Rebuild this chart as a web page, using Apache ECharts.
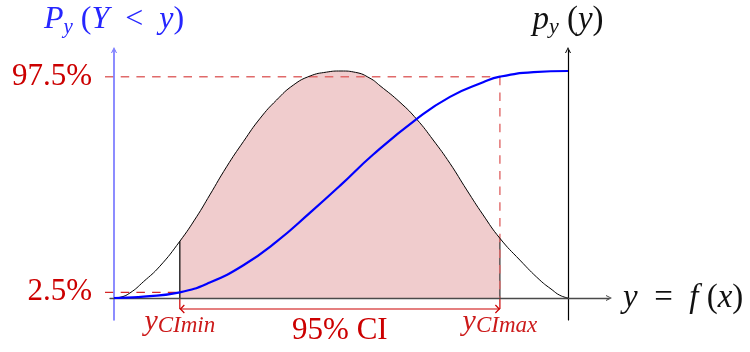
<!DOCTYPE html>
<html>
<head>
<meta charset="utf-8">
<script src="https://cdn.jsdelivr.net/npm/echarts@6/dist/echarts.min.js"></script>
<style>
  html, body { margin: 0; padding: 0; background: #ffffff; }
  #chart { width: 750px; height: 352px; }
</style>
</head>
<body>
<div id="chart"></div>
<script>
// Density p_y(y), peak normalised to 1, sampled along y in [0, 100]
const densityX = [0, 1.3, 3.5, 6.5, 10.1, 14.5, 18.2, 21.1, 24.8, 28.5, 32.2, 35.8, 39.5, 43.2, 46.8, 50.0,
                  53.2, 56.4, 58.6, 63.0, 66.7, 70.3, 74.0, 77.7, 81.3, 85.0, 89.4, 93.8, 96.5, 98.2, 100];
const densityY = [0, 0.003, 0.022, 0.072, 0.140, 0.250, 0.358, 0.454, 0.578, 0.689, 0.792, 0.872, 0.938, 0.978, 0.995, 1.000,
                  0.994, 0.968, 0.935, 0.862, 0.787, 0.696, 0.593, 0.476, 0.366, 0.263, 0.167, 0.079, 0.036, 0.012, 0];

// Cumulative distribution P_y(Y < y)
const cdfX = [0, 2.8, 6.5, 14.5, 21.1, 28.5, 35.8, 43.2, 49.8, 57.1, 66.7, 74.0, 81.3, 85.0, 92.4, 100];
const cdfY = [0, 0.002, 0.006, 0.025, 0.068, 0.144, 0.248, 0.376, 0.495, 0.632, 0.789, 0.886, 0.950, 0.975, 0.995, 1.000];

// Confidence interval bounds and their cumulative levels
const ciBounds = [14.5, 85.0];
const ciLevels = [0.025, 0.975];
const ciLevelLabels = ['2.5%', '97.5%'];
const ciCaption = '95% CI';

const pairs = (xs, ys) => xs.map((x, i) => [x, ys[i]]);
const densityData = pairs(densityX, densityY);
const cdfData = pairs(cdfX, cdfY);
const shadeData = densityData.filter(p => p[0] >= ciBounds[0] && p[0] <= ciBounds[1]);
const densityAt = x => densityY[densityX.indexOf(x)];

// Page layout (pixels)
const frame = { left: 110, right: 609, top: 50, bottom: 320 };
const origin = { x: 114, y: 298 };
const span = { x: 454, y: 227 };
const xMin = (frame.left - origin.x) / span.x * 100;
const xMax = (frame.right - origin.x) / span.x * 100;
const yMin = (origin.y - frame.bottom) / span.y;
const yMax = (origin.y - frame.top) / span.y;

const SERIF = "'Liberation Serif', 'Times New Roman', serif";
const RED = '#cc0000';
const arrowHead = 'path://M0,10L5,0L10,10L8.3,10L5,3.4L1.7,10Z';

function mathStyles(color, size, subSize, subLine) {
  return {
    i: { fontFamily: SERIF, fontStyle: 'italic', fontSize: size, lineHeight: 36, color: color },
    r: { fontFamily: SERIF, fontSize: size, lineHeight: 36, color: color },
    s: { fontFamily: SERIF, fontStyle: 'italic', fontSize: subSize, lineHeight: subLine,
         verticalAlign: 'bottom', color: color }
  };
}

function drawAnnotations(params, api) {
  const lo = api.coord([ciBounds[0], 0]);
  const hi = api.coord([ciBounds[1], 0]);
  const loTop = api.coord([ciBounds[0], densityAt(ciBounds[0])]);
  const hiTop = api.coord([ciBounds[1], densityAt(ciBounds[1])]);
  const pLo = api.coord([ciBounds[0], ciLevels[0]]);
  const pHi = api.coord([ciBounds[1], ciLevels[1]]);
  const mid = api.coord([(ciBounds[0] + ciBounds[1]) / 2, 0]);
  const axisX = api.coord([0, 0])[0];
  const guideX = axisX - 9;
  const braceY = lo[1] + 11;
  const seg = (x1, y1, x2, y2, style) => ({ type: 'line', shape: { x1, y1, x2, y2 }, style });
  const guide = { stroke: '#e06a6a', lineWidth: 1.4, lineDash: [8.5, 7.2] };
  const brace = { stroke: RED, lineWidth: 1.2, fill: null };
  const subLabel = (x, name) => ({
    type: 'text', x: x, y: braceY + 13,
    style: {
      text: '{m|y}{s|' + name + '}', align: 'center', verticalAlign: 'middle',
      rich: {
        m: { fontFamily: SERIF, fontStyle: 'italic', fontSize: 30, lineHeight: 30, fill: '#cc1a1a' },
        s: { fontFamily: SERIF, fontStyle: 'italic', fontSize: 23, lineHeight: 20, verticalAlign: 'bottom', fill: '#cc1a1a' }
      }
    }
  });
  return {
    type: 'group',
    children: [
      seg(lo[0], lo[1], loTop[0], loTop[1], { stroke: '#000000', lineWidth: 1.2 }),
      seg(hi[0], hi[1], hiTop[0], hiTop[1], { stroke: '#333333', lineWidth: 1.2 }),
      seg(guideX, pHi[1], pHi[0], pHi[1], guide),
      seg(pHi[0], pHi[1], hi[0], hi[1], guide),
      seg(guideX, pLo[1], pLo[0], pLo[1], { stroke: '#d42626', lineWidth: 1.2, lineDash: [8.5, 7.2] }),
      seg(lo[0], lo[1], lo[0], braceY, brace),
      seg(hi[0], hi[1], hi[0], braceY, brace),
      seg(lo[0], braceY, hi[0], braceY, brace),
      { type: 'polyline', shape: { points: [[lo[0] + 4.5, braceY - 4], [lo[0] + 0.6, braceY], [lo[0] + 4.5, braceY + 4]] }, style: brace },
      { type: 'polyline', shape: { points: [[hi[0] - 4.5, braceY - 4], [hi[0] - 0.6, braceY], [hi[0] - 4.5, braceY + 4]] }, style: brace },
      { type: 'text', x: guideX - 13, y: pHi[1],
        style: { text: ciLevelLabels[1], align: 'right', verticalAlign: 'middle', fontFamily: SERIF, fontSize: 31, fill: RED } },
      { type: 'text', x: guideX - 13, y: pLo[1],
        style: { text: ciLevelLabels[0], align: 'right', verticalAlign: 'middle', fontFamily: SERIF, fontSize: 31, fill: RED } },
      subLabel(lo[0], 'CImin'),
      subLabel(hi[0], 'CImax'),
      { type: 'text', x: mid[0], y: braceY + 22,
        style: { text: ciCaption, align: 'center', verticalAlign: 'middle', fontFamily: SERIF, fontSize: 31, fill: RED } }
    ]
  };
}

const chart = echarts.init(document.getElementById('chart'), null, { renderer: 'canvas' });
chart.setOption({
  animation: false,
  backgroundColor: '#ffffff',
  grid: {
    left: frame.left, right: 750 - frame.right, top: frame.top, bottom: 352 - frame.bottom,
    containLabel: false, outerBoundsMode: 'none'
  },
  xAxis: [
    {
      type: 'value', min: xMin, max: xMax, z: 3,
      name: '{i|y}{r|  =  }{i|f}{r| (}{i|x}{r|)}',
      nameLocation: 'end', nameGap: 14,
      nameTextStyle: { rich: mathStyles('#111111', 33, 22, 22) },
      axisLine: { show: true, onZero: true, onZeroAxisIndex: 0,
                  symbol: ['none', arrowHead], symbolSize: [9, 6],
                  lineStyle: { color: '#4a4a4a', width: 1.3 } },
      axisTick: { show: false }, axisLabel: { show: false }, splitLine: { show: false }
    },
    {
      type: 'value', min: xMin - 100, max: xMax - 100, show: false
    }
  ],
  yAxis: [
    {
      type: 'value', min: yMin, max: yMax, z: 3,
      name: '{i|P}{s|y}{r| (}{i|Y}{r|  <  }{i|y}{r|)}',
      nameLocation: 'end', nameGap: 12,
      nameTextStyle: { rich: mathStyles('#2626ff', 32, 21, 24) },
      axisLine: { show: true, onZero: true, onZeroAxisIndex: 0,
                  symbol: ['none', arrowHead], symbolSize: [9, 6],
                  lineStyle: { color: '#7070ff', width: 1.6 } },
      axisTick: { show: false }, axisLabel: { show: false }, splitLine: { show: false }
    },
    {
      type: 'value', min: yMin, max: yMax, z: 3, position: 'right',
      name: '{i|p}{s|y}{r| (}{i|y}{r|)}',
      nameLocation: 'end', nameGap: 12,
      nameTextStyle: { rich: mathStyles('#111111', 33, 22, 22) },
      axisLine: { show: true, onZero: true, onZeroAxisIndex: 1,
                  symbol: ['none', arrowHead], symbolSize: [9, 6],
                  lineStyle: { color: '#000000', width: 1.2 } },
      axisTick: { show: false }, axisLabel: { show: false }, splitLine: { show: false }
    }
  ],
  series: [
    {
      name: 'interval', type: 'line', data: shadeData, smooth: 0.5, symbol: 'none', z: 2,
      lineStyle: { width: 0, opacity: 0 },
      areaStyle: { color: '#f0cccd', opacity: 1 }
    },
    {
      type: 'custom', coordinateSystem: 'cartesian2d', data: [ciBounds], z: 3,
      renderItem: drawAnnotations
    },
    {
      name: 'density', type: 'line', data: densityData, smooth: 0.5, symbol: 'none', z: 4,
      lineStyle: { color: '#000000', width: 1 }
    },
    {
      name: 'cdf', type: 'line', data: cdfData, smooth: 0.5, symbol: 'none', z: 5,
      lineStyle: { color: '#0000ff', width: 2.2 }
    }
  ]
});
</script>
</body>
</html>
